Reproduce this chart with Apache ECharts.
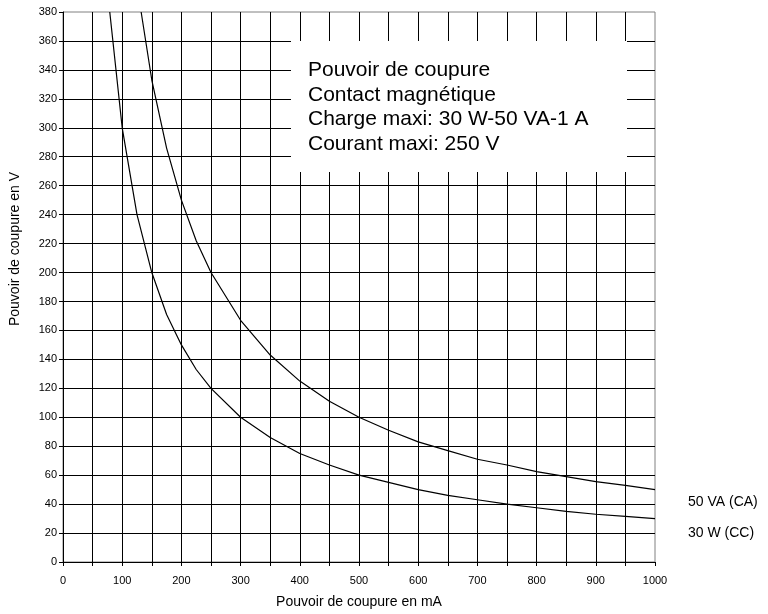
<!DOCTYPE html>
<html>
<head>
<meta charset="utf-8">
<script src="https://cdn.jsdelivr.net/npm/echarts@6/dist/echarts.min.js"></script>
<style>
  html, body { margin: 0; padding: 0; background: #fff; }
  #chart { width: 768px; height: 614px; }
</style>
</head>
<body>
<div id="chart"></div>
<script>
// courant en mA / tension en V
var ccCurrent = [79, 100, 125, 150, 175, 200, 225, 250, 300, 350, 400, 450, 500, 550, 600, 650, 700, 750, 800, 850, 900, 950, 1000];
var ccVoltage = [380, 300, 240, 200, 171, 150, 133, 120, 100, 86, 75, 67, 60, 55, 50, 46, 43, 40, 37.5, 35, 33, 31.5, 30];

var caCurrent = [132, 150, 175, 200, 225, 250, 300, 350, 400, 450, 500, 550, 600, 650, 700, 750, 800, 850, 900, 950, 1000];
var caVoltage = [380, 333, 286, 250, 222, 200, 167, 143, 125, 111, 100, 91, 83, 77, 71, 67, 62.5, 59, 55.5, 53, 50];

var seriesNames = ['50 VA (CA)', '30 W (CC)'];
var boxLines = ['Pouvoir de coupure', 'Contact magnétique', 'Charge maxi: 30 W-50 VA-1 A', 'Courant maxi: 250 V'];

function pairs(xs, ys) {
    let out = [];
    for (let i = 0; i < xs.length; i++) {
        out.push([xs[i], ys[i]]);
    }
    return out;
}

window.onload = function () {
    let chart = echarts.init(document.getElementById('chart'));
    let font = '"Liberation Sans", Arial, sans-serif';

    let option = {
        animation: false,
        textStyle: { fontFamily: font },
        grid: {
            left: 63, right: 113, top: 12, bottom: 51,
            show: true,
            borderColor: '#808080',
            borderWidth: 1
        },
        xAxis: {
            type: 'value',
            min: 0, max: 1000, interval: 50,
            name: 'Pouvoir de coupure en mA',
            nameLocation: 'middle',
            nameGap: 33,
            nameTextStyle: { color: '#000', fontSize: 14, fontFamily: font },
            axisLine: { lineStyle: { color: '#000', width: 1 } },
            axisTick: { show: true, length: 4, lineStyle: { color: '#000' } },
            axisLabel: {
                color: '#000', fontSize: 11, fontFamily: font, margin: 13,
                // une étiquette tous les 100
                formatter: function (v) { return v % 100 === 0 ? String(v) : ''; }
            },
            splitLine: { show: true, showMaxLine: false, lineStyle: { color: '#000', width: 1 } }
        },
        yAxis: {
            type: 'value',
            min: 0, max: 380, interval: 20,
            axisLine: { show: true, lineStyle: { color: '#000', width: 1 } },
            axisTick: { show: true, length: 4, lineStyle: { color: '#000' } },
            axisLabel: { color: '#000', fontSize: 11, fontFamily: font, margin: 6 },
            splitLine: { show: true, showMaxLine: false, lineStyle: { color: '#000', width: 1 } }
        },
        series: [
            {
                name: seriesNames[0],
                type: 'line',
                data: pairs(caCurrent, caVoltage),
                showSymbol: false,
                smooth: false,
                z: 5,
                lineStyle: { color: '#000', width: 1.2 }
            },
            {
                name: seriesNames[1],
                type: 'line',
                data: pairs(ccCurrent, ccVoltage),
                showSymbol: false,
                smooth: false,
                z: 5,
                lineStyle: { color: '#000', width: 1.2 }
            }
        ],
        graphic: [
            // cadre blanc du texte
            {
                type: 'rect', left: 291, top: 41, z: 10,
                shape: { width: 336, height: 131 },
                style: { fill: '#fff' }
            },
            {
                type: 'text', left: 308, top: 58, z: 11,
                style: {
                    text: boxLines.join('\n'),
                    fill: '#000', font: '21px ' + font, lineHeight: 24.5
                }
            },
            {
                type: 'text', x: 688, y: 502, z: 11,
                style: { text: seriesNames[0], fill: '#000', font: '14px ' + font, verticalAlign: 'middle' }
            },
            {
                type: 'text', x: 688, y: 533, z: 11,
                style: { text: seriesNames[1], fill: '#000', font: '14px ' + font, verticalAlign: 'middle' }
            },
            {
                type: 'text', z: 11,
                x: 15, y: 249, rotation: Math.PI / 2,
                style: {
                    text: 'Pouvoir de coupure en V',
                    fill: '#000', font: '14px ' + font,
                    align: 'center', verticalAlign: 'middle'
                }
            }
        ]
    };

    chart.setOption(option, true);
};
</script>
</body>
</html>
